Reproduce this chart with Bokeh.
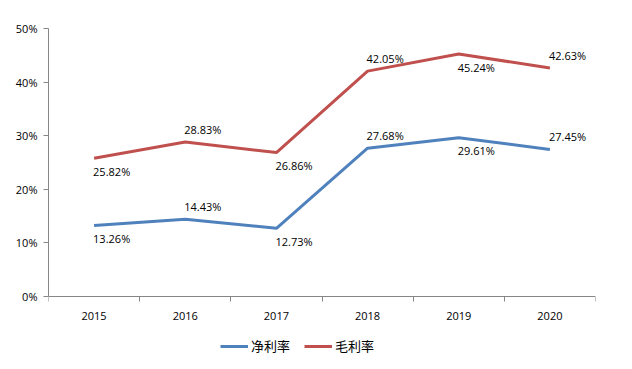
from bokeh.plotting import figure
from bokeh.models import ColumnDataSource, FixedTicker, PrintfTickFormatter, Range1d, Legend, LegendItem
from bokeh.core.properties import value
from bokeh.embed import file_html
from bokeh.resources import INLINE

years = ["2015", "2016", "2017", "2018", "2019", "2020"]
net_margin = [13.26, 14.43, 12.73, 27.68, 29.61, 27.45]
gross_margin = [25.82, 28.83, 26.86, 42.05, 45.24, 42.63]
net_label_side = ["below", "above", "below", "above", "below", "above"]
gross_label_side = ["below", "above", "below", "above", "below", "above"]
series_names = ["净利率", "毛利率"]
y_ticks = [0, 10, 20, 30, 40, 50]

BLUE = "#4F81BD"
RED = "#C0504D"
AXIS = "#868686"
FONT = "Open Sans"

xs = [i + 0.5 for i in range(len(years))]

# frame spans from the top of the value axis down to near the page bottom so the
# legend can sit inside it; the category axis is pinned at 0
p = figure(width=624, height=361, output_backend="svg", toolbar_location=None,
           x_range=Range1d(0, len(years)), y_range=Range1d(-12.1, 50),
           min_border_left=48, min_border_right=29, min_border_top=28, min_border_bottom=0)
p.outline_line_color = None
p.grid.grid_line_color = None

p.xaxis.fixed_location = 0
p.xaxis.ticker = FixedTicker(ticks=xs, minor_ticks=list(range(len(years) + 1)))
p.xaxis.major_label_overrides = {x: y for x, y in zip(xs, years)}
p.xaxis.major_tick_out = 0
p.xaxis.major_tick_in = 0
p.xaxis.minor_tick_out = 5
p.xaxis.minor_tick_in = 0
p.xaxis.minor_tick_line_color = AXIS
p.xaxis.axis_line_color = AXIS
p.xaxis.major_label_standoff = 10
p.xaxis.major_label_text_font = FONT
p.xaxis.major_label_text_font_size = "11px"
p.xaxis.major_label_text_color = "#000000"

p.yaxis.bounds = (0, 50)
p.yaxis.ticker = FixedTicker(ticks=y_ticks)
p.yaxis.formatter = PrintfTickFormatter(format="%d%%")
p.yaxis.major_tick_out = 5
p.yaxis.major_tick_in = 0
p.yaxis.minor_tick_line_color = None
p.yaxis.major_tick_line_color = AXIS
p.yaxis.axis_line_color = AXIS
p.yaxis.major_label_standoff = 6
p.yaxis.major_label_text_font = FONT
p.yaxis.major_label_text_font_size = "11px"
p.yaxis.major_label_text_color = "#000000"

renderers = []
for vals, sides, color in [(net_margin, net_label_side, BLUE), (gross_margin, gross_label_side, RED)]:
    src = ColumnDataSource(dict(x=xs, y=vals,
                                label=[f"{v:.2f}%" for v in vals],
                                off=[-13 if s == "above" else 13 for s in sides]))
    r = p.line("x", "y", source=src, line_color=color, line_width=3)
    renderers.append(r)
    p.text("x", "y", text="label", source=src, x_offset=-1, y_offset="off",
           text_align="left", text_baseline="middle",
           text_font=value(FONT), text_font_size="11px", text_color="#000000")

legend = Legend(items=[LegendItem(label=series_names[0], renderers=[renderers[0]]),
                       LegendItem(label=series_names[1], renderers=[renderers[1]])],
                orientation="horizontal", location=(172, 6),
                glyph_width=28, glyph_height=14, label_height=14, label_standoff=3,
                spacing=14, padding=0, margin=0, border_line_color=None,
                background_fill_alpha=0,
                label_text_font="Noto Sans CJK SC", label_text_font_size="13px",
                label_text_color="#000000")
p.add_layout(legend, "center")

open("out.html", "w").write(file_html(p, INLINE))
